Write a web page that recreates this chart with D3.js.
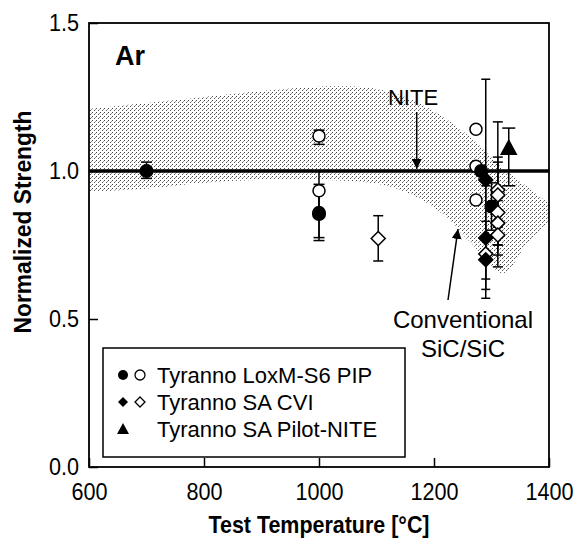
<!DOCTYPE html>
<html>
<head>
<meta charset="utf-8">
<script src="https://cdn.jsdelivr.net/npm/d3@7"></script>
<style>
  body { margin: 0; background: #fff; }
  text { font-family: "Liberation Sans", Arial, sans-serif; }
</style>
</head>
<body>
<div id="chart"></div>
<script>
// chart data
const xTicks = [600, 800, 1000, 1200, 1400];
const yTicks = [0.0, 0.5, 1.0, 1.5];

// conventional SiC/SiC scatter band
const bandT     = [600, 700, 800, 900, 1000, 1090, 1150, 1205, 1263, 1320, 1360, 1400];
const bandUpper = [1.21, 1.23, 1.25, 1.27, 1.285, 1.28, 1.25, 1.196, 1.115, 1.01, 0.95, 0.89];
const bandLower = [0.93, 0.94, 0.96, 0.97, 0.97, 0.96, 0.93, 0.87, 0.76, 0.655, 0.75, 0.83];

// Tyranno LoxM-S6 PIP
const pipFilled = [
  { t: 700, v: 1.00, lo: 0.975, hi: 1.03 },
  { t: 1000, v: 0.855, lo: 0.775, hi: 0.935 },
  { t: 1282, v: 1.00, lo: null, hi: null },
  { t: 1300, v: 0.88, lo: 0.80, hi: 0.96 }
];
const pipOpen = [
  { t: 1000, v: 1.118, lo: 1.09, hi: 1.138 },
  { t: 1000, v: 0.933, lo: 0.865, hi: 1.0 },
  { t: 1000, v: 0.86, lo: 0.765, hi: 0.955 },
  { t: 1273, v: 1.141, lo: null, hi: null },
  { t: 1273, v: 1.016, lo: null, hi: null },
  { t: 1273, v: 0.902, lo: null, hi: null }
];
// Tyranno SA CVI
const cviFilled = [
  { t: 1290, v: 0.97, lo: 0.635, hi: 1.31 },
  { t: 1290, v: 0.774, lo: 0.60, hi: 0.95 },
  { t: 1290, v: 0.70, lo: 0.57, hi: 0.83 }
];
const cviOpen = [
  { t: 1103, v: 0.772, lo: 0.696, hi: 0.849 },
  { t: 1290, v: 0.72, lo: null, hi: null },
  { t: 1311, v: 0.936, lo: 0.716, hi: 1.166 },
  { t: 1311, v: 0.919, lo: 0.81, hi: 1.03 },
  { t: 1311, v: 0.86, lo: 0.676, hi: 1.047 },
  { t: 1311, v: 0.824, lo: 0.75, hi: 0.90 },
  { t: 1311, v: 0.784, lo: 0.75, hi: 0.82 }
];
// Tyranno SA Pilot-NITE
const niteTri = [
  { t: 1330, v: 1.078, lo: 0.95, hi: 1.145 }
];

const legendItems = [
  { label: "Tyranno LoxM-S6 PIP", filled: "circle", open: "circle" },
  { label: "Tyranno SA CVI", filled: "diamond", open: "diamond" },
  { label: "Tyranno SA Pilot-NITE", filled: "triangle", open: null }
];

const W = 587, H = 544;
const margin = { top: 23, right: 38, bottom: 77, left: 89 };

const svg = d3.select("#chart").append("svg")
  .attr("width", W).attr("height", H);

const x = d3.scaleLinear().domain([600, 1400]).range([margin.left, W - margin.right]);
const y = d3.scaleLinear().domain([0, 1.5]).range([H - margin.bottom, margin.top]);

// stipple pattern for the band
const defs = svg.append("defs");
const pat = defs.append("pattern")
  .attr("id", "stipple").attr("patternUnits", "userSpaceOnUse")
  .attr("width", 4).attr("height", 4);
pat.append("rect").attr("x", 0).attr("y", 0).attr("width", 1).attr("height", 1).attr("fill", "#444");
pat.append("rect").attr("x", 2).attr("y", 2).attr("width", 1).attr("height", 1).attr("fill", "#555");
pat.append("rect").attr("x", 3).attr("y", 1).attr("width", 1).attr("height", 1).attr("fill", "#999");

const bandData = bandT.map((t, i) => ({ t, lo: bandLower[i], hi: bandUpper[i] }));
svg.append("path")
  .datum(bandData)
  .attr("fill", "url(#stipple)")
  .attr("d", d3.area()
    .x(d => x(d.t)).y0(d => y(d.lo)).y1(d => y(d.hi))
    .curve(d3.curveCatmullRom));

// axes: inward ticks
const bottom = svg.append("g").attr("transform", `translate(0,${y(0)})`);
bottom.call(d3.axisBottom(x).tickValues(d3.range(650, 1400, 50).filter(v => v % 200 !== 0))
  .tickSizeInner(-6).tickSizeOuter(0).tickFormat(""));
bottom.call(d3.axisBottom(x).tickValues(xTicks).tickSizeInner(-9).tickSizeOuter(0)
  .tickPadding(16).tickFormat(d3.format("d")));

const left = svg.append("g").attr("transform", `translate(${x(600)},0)`);
left.call(d3.axisLeft(y).tickValues(d3.range(1, 15).map(i => i / 10).filter(v => Math.round(v * 10) % 5 !== 0))
  .tickSizeInner(-6).tickSizeOuter(0).tickFormat(""));
left.call(d3.axisLeft(y).tickValues(yTicks).tickSizeInner(-9).tickSizeOuter(0)
  .tickPadding(10).tickFormat(d3.format(".1f")));

svg.selectAll(".domain").remove();
svg.selectAll(".tick line").attr("stroke", "#000").attr("stroke-width", 1.5);
svg.selectAll(".tick text").attr("font-size", 24).attr("fill", "#000")
  .attr("font-family", "Liberation Sans, Arial, sans-serif");
// the scan's digits are narrow
bottom.selectAll(".tick text").attr("transform", "scale(0.9,1)");
left.selectAll(".tick text").attr("transform", "scale(0.9,1)").attr("x", -11);

// frame
svg.append("rect")
  .attr("x", x(600)).attr("y", y(1.5))
  .attr("width", x(1400) - x(600)).attr("height", y(0) - y(1.5))
  .attr("fill", "none").attr("stroke", "#000").attr("stroke-width", 1.8);

// NITE reference line
svg.append("line")
  .attr("x1", x(600)).attr("x2", x(1400)).attr("y1", y(1)).attr("y2", y(1))
  .attr("stroke", "#000").attr("stroke-width", 3.5);

// arrows
defs.append("marker").attr("id", "head").attr("viewBox", "0 0 10 10")
  .attr("refX", 10).attr("refY", 5).attr("markerWidth", 10).attr("markerHeight", 10)
  .attr("markerUnits", "userSpaceOnUse").attr("orient", "auto")
  .append("path").attr("d", "M0,0 L10,5 L0,10 Z").attr("fill", "#000");

svg.append("line")
  .attr("x1", x(1170)).attr("x2", x(1170)).attr("y1", 112).attr("y2", y(1) - 2)
  .attr("stroke", "#000").attr("stroke-width", 1.5).attr("marker-end", "url(#head)");
svg.append("line")
  .attr("x1", 448).attr("x2", 458).attr("y1", 300).attr("y2", 229)
  .attr("stroke", "#000").attr("stroke-width", 1.5).attr("marker-end", "url(#head)");

// error bars
const allPts = [
  ...pipOpen.map(d => ({ ...d, cap: 5.5 })),
  ...pipFilled.map(d => ({ ...d, cap: 5.5 })),
  ...cviOpen.map(d => ({ ...d, cap: 5 })),
  ...cviFilled.map(d => ({ ...d, cap: 4.5 })),
  ...niteTri.map(d => ({ ...d, cap: 6.5 }))
].filter(d => d.lo !== null);

const eb = svg.append("g").attr("stroke", "#000").attr("stroke-width", 1.5);
allPts.forEach(d => {
  eb.append("line").attr("x1", x(d.t)).attr("x2", x(d.t)).attr("y1", y(d.lo)).attr("y2", y(d.hi));
  [d.lo, d.hi].forEach(v => {
    eb.append("line").attr("x1", x(d.t) - d.cap).attr("x2", x(d.t) + d.cap)
      .attr("y1", y(v)).attr("y2", y(v));
  });
});

// markers
const sym = {
  circle: r => d3.symbol(d3.symbolCircle, Math.PI * r * r)(),
  diamond: r => `M0,${-r}L${r},0L0,${r}L${-r},0Z`,
  triangle: r => `M0,${-r}L${r},${r * 0.85}L${-r},${r * 0.85}Z`
};

function drawMarks(data, shape, r, filled) {
  svg.append("g").selectAll("path").data(data).join("path")
    .attr("transform", d => `translate(${x(d.t)},${y(d.v)})`)
    .attr("d", sym[shape](r))
    .attr("fill", filled ? "#000" : "#fff")
    .attr("stroke", "#000").attr("stroke-width", 1.5);
}
drawMarks(pipOpen, "circle", 6, false);
drawMarks(pipFilled, "circle", 6.3, true);
drawMarks(cviOpen, "diamond", 7, false);
drawMarks(cviFilled, "diamond", 7, true);
drawMarks(niteTri, "triangle", 7.5, true);

// labels
svg.append("text").attr("x", 115).attr("y", 65).attr("font-size", 27)
  .attr("font-weight", "bold").text("Ar");
svg.append("text").attr("x", 413).attr("y", 105).attr("font-size", 22)
  .attr("text-anchor", "middle").text("NITE");
svg.append("text").attr("x", 463).attr("y", 328).attr("font-size", 24)
  .attr("text-anchor", "middle").text("Conventional");
svg.append("text").attr("x", 463).attr("y", 357).attr("font-size", 24)
  .attr("text-anchor", "middle").text("SiC/SiC");

// axis titles
svg.append("text").attr("x", x(1000)).attr("y", 533).attr("font-size", 24)
  .attr("font-weight", "bold").attr("text-anchor", "middle")
  .attr("textLength", 221).attr("lengthAdjust", "spacingAndGlyphs")
  .text("Test Temperature [\u00B0C]");
svg.append("text")
  .attr("transform", `translate(31,222) rotate(-90)`)
  .attr("font-size", 24).attr("font-weight", "bold").attr("text-anchor", "middle")
  .attr("textLength", 223).attr("lengthAdjust", "spacingAndGlyphs")
  .text("Normalized Strength");

// legend
const lg = svg.append("g");
lg.append("rect").attr("x", 103).attr("y", 348).attr("width", 302).attr("height", 109)
  .attr("fill", "#fff").attr("stroke", "#000").attr("stroke-width", 1.5);
legendItems.forEach((d, i) => {
  const cy = 375 + i * 27;
  lg.append("path").attr("transform", `translate(123,${cy})`)
    .attr("d", sym[d.filled](d.filled === "triangle" ? 6 : 5)).attr("fill", "#000");
  if (d.open) {
    lg.append("path").attr("transform", `translate(140,${cy})`)
      .attr("d", sym[d.open](5)).attr("fill", "#fff").attr("stroke", "#000").attr("stroke-width", 1.3);
  }
  lg.append("text").attr("x", 157).attr("y", cy).attr("dy", "0.36em")
    .attr("font-size", 22).text(d.label);
});
</script>
</body>
</html>
